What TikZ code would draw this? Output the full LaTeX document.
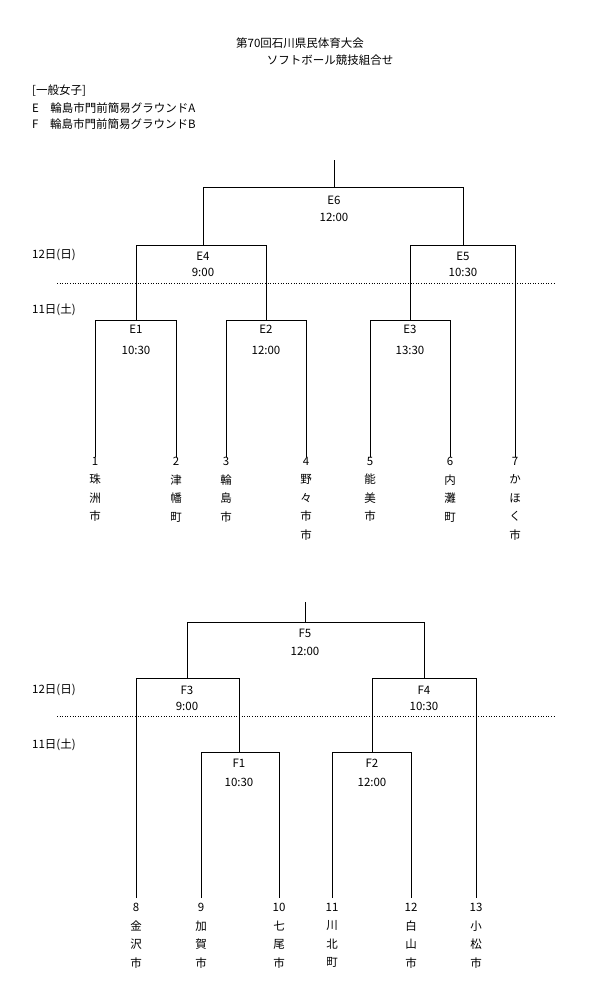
\documentclass[tikz,border=0pt]{standalone}
\usepackage{fontspec}
\setmainfont{Noto Sans CJK JP}
\begin{document}
\begin{tikzpicture}[x=1pt,y=-1pt,
  ln/.style={line width=0.6pt},
  dt/.style={line width=0.6pt,dotted},
  t/.style={font=\fontsize{11.5}{12}\selectfont,inner sep=0pt},
  tl/.style={t,anchor=west},
  tm/.style={t,align=center,font=\fontsize{11.5}{18.5}\selectfont,anchor=north}]
\useasboundingbox (0,0) rectangle (600,983);
\node[t] (t1) at (300,43) {第70回石川県民体育大会};
\node[t] (t2) at (330,60) {ソフトボール競技組合せ};
\node[tl] (c) at (32,91) {[一般女子]};
\node[tl] (e) at (32,108) {E\quad 輪島市門前簡易グラウンドA};
\node[tl] (f) at (32,124) {F\quad 輪島市門前簡易グラウンドB};
% ---------- E bracket
\node[tl] (d1) at (32,255) {12日(日)};
\node[tl] (d2) at (32,310) {11日(土)};
\draw[dt] (57,283) -- (555,283);
\draw[ln] (334,160) -- (334,187) (203,245) |- (463,187) -- (463,245);
\draw[ln] (136,320) |- (266,245) -- (266,320);
\draw[ln] (410,320) |- (515,245) -- (515,457);
\draw[ln] (95,457) |- (176,320) -- (176,457);
\draw[ln] (226,457) |- (306,320) -- (306,457);
\draw[ln] (370,457) |- (450,320) -- (450,457);
\node[t] (E6) at (334,200) {E6}; \node[t] (E6t) at (334,217) {12:00};
\node[t] (E4) at (203,256) {E4}; \node[t] (E4t) at (203,272) {9:00};
\node[t] (E5) at (463,256) {E5}; \node[t] (E5t) at (463,272) {10:30};
\node[t] (E1) at (136,329) {E1}; \node[t] (E1t) at (136,350) {10:30};
\node[t] (E2) at (266,329) {E2}; \node[t] (E2t) at (266,350) {12:00};
\node[t] (E3) at (410,329) {E3}; \node[t] (E3t) at (410,350) {13:30};
\node[tm] (n1) at (95,457) {1\\珠\\洲\\市};
\node[tm] (n2) at (176,457) {2\\津\\幡\\町};
\node[tm] (n3) at (226,457) {3\\輪\\島\\市};
\node[tm] (n4) at (306,457) {4\\野\\々\\市\\市};
\node[tm] (n5) at (370,457) {5\\能\\美\\市};
\node[tm] (n6) at (450,457) {6\\内\\灘\\町};
\node[tm] (n7) at (515,457) {7\\か\\ほ\\く\\市};
% ---------- F bracket
\node[tl] (d3) at (32,690) {12日(日)};
\node[tl] (d4) at (32,745) {11日(土)};
\draw[dt] (57,716) -- (555,716);
\draw[ln] (305,602) -- (305,622) (187,678) |- (424,622) -- (424,678);
\draw[ln] (136,898) |- (239,678) -- (239,752);
\draw[ln] (372,752) |- (476,678) -- (476,898);
\draw[ln] (201,898) |- (279,752) -- (279,898);
\draw[ln] (332,898) |- (411,752) -- (411,898);
\node[t] (F5) at (305,633) {F5}; \node[t] (F5t) at (305,651) {12:00};
\node[t] (F3) at (187,690) {F3}; \node[t] (F3t) at (187,706) {9:00};
\node[t] (F4) at (424,690) {F4}; \node[t] (F4t) at (424,706) {10:30};
\node[t] (F1) at (239,763) {F1}; \node[t] (F1t) at (239,782) {10:30};
\node[t] (F2) at (372,763) {F2}; \node[t] (F2t) at (372,782) {12:00};
\node[tm] (n8) at (136,903) {8\\金\\沢\\市};
\node[tm] (n9) at (201,903) {9\\加\\賀\\市};
\node[tm] (n10) at (279,903) {10\\七\\尾\\市};
\node[tm] (n11) at (332,903) {11\\川\\北\\町};
\node[tm] (n12) at (411,903) {12\\白\\山\\市};
\node[tm] (n13) at (476,903) {13\\小\\松\\市};
\end{tikzpicture}
\end{document}
